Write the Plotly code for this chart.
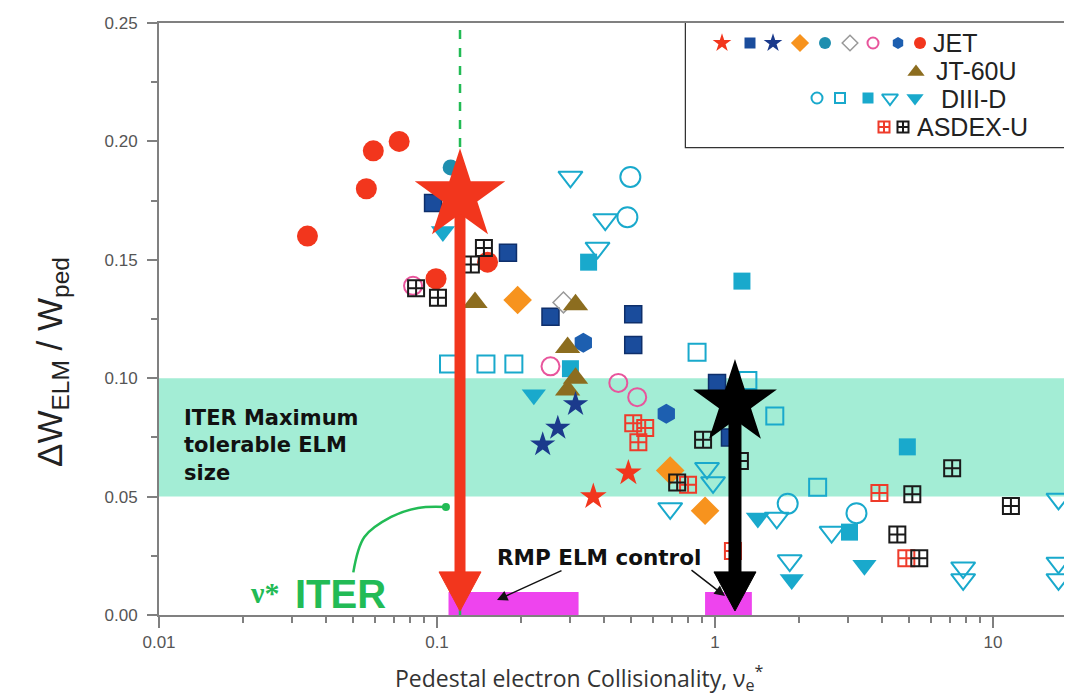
import plotly.graph_objects as go

# ---------------- data (nu_e*, dW_ELM/W_ped) ----------------
jet_red_star_x = [0.488, 0.365]
jet_red_star_y = [0.060, 0.050]
jet_navy_sq_x = [0.0968, 0.180, 0.256, 0.508, 0.508, 1.017, 1.132]
jet_navy_sq_y = [0.174, 0.153, 0.126, 0.127, 0.114, 0.098, 0.075]
jet_navy_star_x = [0.315, 0.272, 0.240]
jet_navy_star_y = [0.089, 0.079, 0.072]
jet_orange_x = [0.195, 0.690, 0.921]
jet_orange_y = [0.133, 0.061, 0.044]
jet_teal_x = [0.112]
jet_teal_y = [0.189]
jet_gray_x = [0.285]
jet_gray_y = [0.132]
jet_pink_x = [0.082, 0.256, 0.449, 0.525]
jet_pink_y = [0.139, 0.105, 0.098, 0.092]
jet_blue_x = [0.336, 0.668]
jet_blue_y = [0.115, 0.085]
jet_red_x = [0.0342, 0.0557, 0.0590, 0.0731, 0.0992, 0.152]
jet_red_y = [0.160, 0.180, 0.196, 0.200, 0.142, 0.149]

jt60_x = [0.137, 0.315, 0.295, 0.315, 0.295]
jt60_y = [0.132, 0.131, 0.113, 0.100, 0.095]

d3d_ocirc_x = [0.496, 0.484, 1.826, 3.228]
d3d_ocirc_y = [0.185, 0.168, 0.047, 0.043]
d3d_osq_x = [0.110, 0.150, 0.189, 0.862, 1.313, 1.641, 2.34]
d3d_osq_y = [0.106, 0.106, 0.106, 0.111, 0.099, 0.084, 0.054]
d3d_fsq_x = [0.351, 1.250, 0.302, 4.918, 3.047]
d3d_fsq_y = [0.149, 0.141, 0.104, 0.071, 0.035]
d3d_otri_x = [0.302, 0.403, 0.378, 0.984, 0.936, 0.690, 1.668, 2.627, 1.857,
              7.81, 7.81, 17.2, 17.2, 17.2]
d3d_otri_y = [0.185, 0.167, 0.155, 0.056, 0.062, 0.045, 0.041, 0.035, 0.023,
              0.020, 0.015, 0.049, 0.022, 0.015]
d3d_ftri_x = [0.105, 0.223, 1.426, 1.888, 3.448]
d3d_ftri_y = [0.162, 0.093, 0.041, 0.015, 0.021]

asdex_red_x = [0.508, 0.561, 0.530, 0.800, 1.16, 3.903, 4.878]
asdex_red_y = [0.081, 0.079, 0.073, 0.055, 0.027, 0.0515, 0.024]
asdex_blk_x = [0.0841, 0.1008, 0.1324, 0.1475, 0.731, 0.906, 1.229, 4.528,
               5.126, 5.43, 7.13, 11.6]
asdex_blk_y = [0.138, 0.134, 0.148, 0.155, 0.056, 0.074, 0.065, 0.034,
               0.051, 0.024, 0.062, 0.046]

# ITER and RMP operating points
iter_nu, iter_dw = 0.121, 0.177
rmp_nu, rmp_dw = 1.18, 0.0895
arrow_top = 0.0182     # top of the arrow heads
arrow_tip = 0.0017     # tip of the arrow heads
arrow_half_w = 0.0755  # half width of arrow heads (decades)
rmp_box_x0 = [0.110, 0.921]
rmp_box_x1 = [0.323, 1.357]
rmp_box_top = 0.0097
band_lo, band_hi = 0.05, 0.10
curve_x = [0.050, 0.0548, 0.0684, 0.0855, 0.1077]
curve_y = [0.018, 0.0329, 0.0414, 0.0452, 0.0456]

x_ticks = [0.01, 0.1, 1, 10]
x_tick_text = ["0.01", "0.1", "1", "10"]
x_minor = [m * d for d in (0.01, 0.1, 1, 10) for m in range(2, 10)]

# ---------------- colours ----------------
RED = "#F2361D"
NAVY = "#1A4C9C"
NAVY_STAR = "#1B3A8C"
ORANGE = "#F7931E"
TEAL = "#1F8FAF"
PINK = "#E8559C"
BLUE = "#1D5FB0"
OLIVE = "#8C6D1F"
CYAN = "#19A9CC"
ASDEX_RED = "#EE3B2A"
BLACK = "#1a1a1a"
MAGENTA = "#EE44EE"
GREEN = "#22BB55"
BAND = "#A3EDD5"

fig = go.Figure()


def add(x, y, symbol, color, size, lw=0, lc=None, xaxis="x", yaxis="y"):
    fig.add_trace(go.Scatter(
        x=x, y=y, mode="markers", xaxis=xaxis, yaxis=yaxis,
        marker=dict(symbol=symbol, color=color, size=size,
                    line=dict(width=lw, color=lc if lc else color)),
        showlegend=False, hoverinfo="skip"))


def line(x, y, color, width, dash="solid", shape="linear"):
    fig.add_trace(go.Scatter(x=x, y=y, mode="lines",
                             line=dict(color=color, width=width, dash=dash, shape=shape),
                             showlegend=False, hoverinfo="skip"))


def arrow_head(x, color):
    f = 10 ** arrow_half_w
    fig.add_trace(go.Scatter(x=[x / f, x * f, x, x / f],
                             y=[arrow_top, arrow_top, arrow_tip, arrow_top],
                             mode="lines", fill="toself", fillcolor=color,
                             line=dict(color=color, width=1),
                             showlegend=False, hoverinfo="skip"))


# ITER dashed line and green pointer
line([iter_nu, iter_nu], [0, 0.25], GREEN, 2.5, dash="dash")
line(curve_x, curve_y, GREEN, 2.5, shape="spline")
add([curve_x[-1]], [curve_y[-1]], "circle", GREEN, 8)

# data
add(d3d_osq_x, d3d_osq_y, "square-open", CYAN, 17, 2)
add(d3d_ocirc_x, d3d_ocirc_y, "circle-open", CYAN, 20, 2)
add(d3d_otri_x, d3d_otri_y, "triangle-down-open", CYAN, 21, 2)
add(d3d_fsq_x, d3d_fsq_y, "square", CYAN, 17)
add(d3d_ftri_x, d3d_ftri_y, "triangle-down", CYAN, 21)
add(jet_red_x, jet_red_y, "circle", RED, 21)
add(jet_teal_x, jet_teal_y, "circle", TEAL, 16)
add(jet_navy_sq_x, jet_navy_sq_y, "square", NAVY, 17, 1.5, "#0E2F6B")
add(jet_blue_x, jet_blue_y, "hexagon", BLUE, 20)
add(jet_orange_x, jet_orange_y, "diamond", ORANGE, 22)
add(jet_gray_x, jet_gray_y, "diamond-open", "#999999", 16, 1.5)
add(jt60_x, jt60_y, "triangle-up", OLIVE, 22)
add(jet_pink_x, jet_pink_y, "circle-open", PINK, 18, 2)
add(jet_navy_star_x, jet_navy_star_y, "star", NAVY_STAR, 19)
add(jet_red_star_x, jet_red_star_y, "star", RED, 20)
add(asdex_red_x, asdex_red_y, "square-cross-open", ASDEX_RED, 16, 2)
add(asdex_blk_x, asdex_blk_y, "square-cross-open", BLACK, 16, 2)

# arrows
line([iter_nu, iter_nu], [iter_dw, arrow_top], RED, 11)
line([rmp_nu, rmp_nu], [rmp_dw, arrow_top], "#000000", 13)
arrow_head(iter_nu, RED)
arrow_head(rmp_nu, "#000000")
add([iter_nu], [iter_dw], "star", RED, 68)
add([rmp_nu], [rmp_dw], "star", "#000000", 63)

# ---------------- legend (drawn in a helper axis, pixel units) ----------------
LX2 = "x2"
LY2 = "y2"
add([722], [43], "star", RED, 14, xaxis=LX2, yaxis=LY2)
add([750], [43], "square", NAVY, 11, xaxis=LX2, yaxis=LY2)
add([773], [43], "star", NAVY_STAR, 14, xaxis=LX2, yaxis=LY2)
add([800], [43], "diamond", ORANGE, 14, xaxis=LX2, yaxis=LY2)
add([825], [43], "circle", TEAL, 12, xaxis=LX2, yaxis=LY2)
add([850], [43], "diamond-open", "#999999", 12, 1.5, xaxis=LX2, yaxis=LY2)
add([873], [43], "circle-open", PINK, 11, 2, xaxis=LX2, yaxis=LY2)
add([898], [43], "hexagon", BLUE, 12, xaxis=LX2, yaxis=LY2)
add([920], [43], "circle", RED, 12, xaxis=LX2, yaxis=LY2)
add([916], [72], "triangle-up", OLIVE, 15, xaxis=LX2, yaxis=LY2)
add([817], [98], "circle-open", CYAN, 11, 2, xaxis=LX2, yaxis=LY2)
add([840], [98], "square-open", CYAN, 10, 2, xaxis=LX2, yaxis=LY2)
add([868], [98], "square", CYAN, 11, xaxis=LX2, yaxis=LY2)
add([890], [98], "triangle-down-open", CYAN, 14, 2, xaxis=LX2, yaxis=LY2)
add([915], [98], "triangle-down", CYAN, 15, xaxis=LX2, yaxis=LY2)
add([884], [127], "square-cross-open", ASDEX_RED, 11, 2, xaxis=LX2, yaxis=LY2)
add([903], [127], "square-cross-open", BLACK, 11, 2, xaxis=LX2, yaxis=LY2)

legend_font = dict(family="Liberation Sans, Arial", size=25, color="#222")
legend_labels = ["JET", "JT-60U", "DIII-D", "ASDEX-U"]
legend_label_x = [931, 934, 939, 915]
legend_label_y = [43, 71, 99, 127]
ann = []
for t, lx, ly in zip(legend_labels, legend_label_x, legend_label_y):
    ann.append(dict(x=lx, y=ly, xref="x2", yref="y2", text=t,
                    showarrow=False, xanchor="left", yanchor="middle",
                    font=legend_font))

# ---------------- text annotations ----------------
OFF = 8                      # page body margin in the browser
L, T, W, H = 159, 23, 913, 592   # plot area in screenshot pixels


def px(xp):
    return (xp - L) / W


def py(yp):
    return (T + H - yp) / H


ann += [
    dict(x=px(182), y=py(404), xref="paper", yref="paper",
         text="<b>ITER Maximum<br>tolerable ELM<br>size</b>", showarrow=False,
         xanchor="left", yanchor="top", align="left",
         font=dict(family="DejaVu Sans", size=21, color="#111")),
    dict(x=px(599), y=py(557), xref="paper", yref="paper",
         text="<b>RMP ELM control</b>", showarrow=False,
         xanchor="center", yanchor="middle",
         font=dict(family="DejaVu Sans", size=21.5, color="#111")),
    dict(x=px(497), y=py(600), xref="paper", yref="paper", text="",
         showarrow=True, ax=66, ay=-30, arrowhead=2, arrowsize=1.4,
         arrowwidth=1.5, arrowcolor="#111"),
    dict(x=px(725), y=py(596), xref="paper", yref="paper", text="",
         showarrow=True, ax=-35, ay=-27, arrowhead=2, arrowsize=1.4,
         arrowwidth=1.5, arrowcolor="#111"),
    dict(x=px(340), y=py(594), xref="paper", yref="paper",
         text="<b>ITER</b>", showarrow=False, xanchor="center", yanchor="middle",
         font=dict(family="Liberation Sans, Arial", size=40, color=GREEN)),
    dict(x=px(264), y=py(592), xref="paper", yref="paper",
         text="<b>ν*</b>", showarrow=False, xanchor="center", yanchor="middle",
         font=dict(family="Liberation Serif", size=30, color=GREEN)),
    dict(x=px(52), y=py(362), xref="paper", yref="paper",
         text="ΔW<sub>ELM</sub> / W<sub>ped</sub>", showarrow=False,
         xanchor="center", yanchor="middle",
         textangle=-90, font=dict(family="Liberation Sans, Arial", size=35, color="#222")),
    dict(x=px(393), y=py(678), xref="paper", yref="paper",
         text="Pedestal electron Collisionality, ν<sub>e</sub><sup>*</sup>",
         showarrow=False, xanchor="left", yanchor="middle",
         font=dict(family="Open Sans", size=23, color="#333")),
]

# ---------------- shapes ----------------
shapes = [
    dict(type="rect", xref="paper", yref="y", x0=0, x1=1, y0=band_lo, y1=band_hi,
         fillcolor=BAND, line=dict(width=0), layer="below"),
    dict(type="rect", xref="paper", yref="paper", x0=px(686), x1=1.02,
         y0=py(147), y1=1.0, fillcolor="white",
         line=dict(color="#333", width=2.5), layer="below"),
]
for x0, x1 in zip(rmp_box_x0, rmp_box_x1):
    shapes.append(dict(type="rect", xref="x", yref="y", x0=x0, x1=x1, y0=0,
                       y1=rmp_box_top, fillcolor=MAGENTA, line=dict(width=0),
                       layer="below"))

AX = "#808080"
TICKFONT = dict(family="Liberation Sans, Arial", size=17, color="#555")
fig.update_layout(
    width=1072 - OFF, height=698 - OFF,
    margin=dict(l=L - OFF, r=0, t=T - OFF, b=698 - T - H),
    paper_bgcolor="white", plot_bgcolor="white",
    showlegend=False,
    shapes=shapes, annotations=ann,
    xaxis=dict(type="log", range=[-2, -2 + W / 278.0],
               tickvals=x_ticks, ticktext=x_tick_text,
               ticks="outside", ticklen=11, tickwidth=2, tickcolor=AX,
               showline=True, linecolor=AX, linewidth=2, mirror=True,
               showgrid=False, zeroline=False, automargin=False,
               minor=dict(tickvals=x_minor, ticks="outside", ticklen=6,
                          tickwidth=1.5, tickcolor=AX, showgrid=False),
               tickfont=TICKFONT),
    yaxis=dict(range=[0, 0.25], dtick=0.05, tickformat=".2f",
               ticks="outside", ticklen=10, tickwidth=2, tickcolor=AX,
               showline=True, linecolor=AX, linewidth=2,
               showgrid=False, zeroline=False, automargin=False,
               ticklabelstandoff=6,
               minor=dict(dtick=0.025, ticks="outside", ticklen=6,
                          tickwidth=1.5, tickcolor=AX, showgrid=False),
               tickfont=TICKFONT),
    xaxis2=dict(domain=[px(686), 1], range=[686, 686 + (1 - px(686)) * W],
                anchor="y2", visible=False, fixedrange=True),
    yaxis2=dict(domain=[py(147), 1], range=[147, 23], anchor="x2",
                visible=False, fixedrange=True),
)

fig.write_html("out.html", config=dict(displayModeBar=False))
